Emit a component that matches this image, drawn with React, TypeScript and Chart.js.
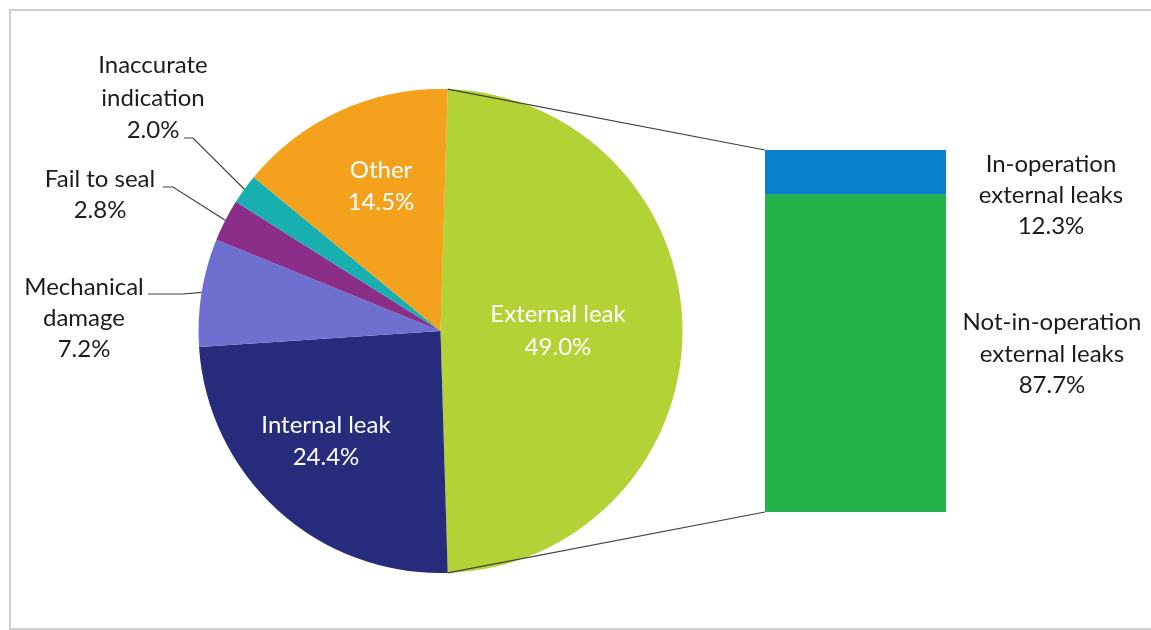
import React, { useEffect, useRef } from "react";
import { Chart, registerables } from "chart.js";

Chart.register(...registerables);

// ---------- data ----------
const pieCategories = ["External leak", "Internal leak", "Mechanical damage", "Fail to seal", "Inaccurate indication", "Other"];
const pieValues = [49.0, 24.4, 7.2, 2.8, 2.0, 14.5];
const pieLabelLines = [["External leak"], ["Internal leak"], ["Mechanical", "damage"], ["Fail to seal"], ["Inaccurate", "indication"], ["Other"]];
const pieColors = ["#b2d235", "#272b7c", "#6e70d0", "#8b2e8a", "#17afb0", "#f4a11d"];

const barCategories = ["Not-in-operation external leaks", "In-operation external leaks"];
const barValues = [87.7, 12.3];
const barLabelLines = [["Not-in-operation", "external leaks"], ["In-operation", "external leaks"]];
const barColors = ["#25b24b", "#0a80cc"];

const W = 1151;
const H = 630;
const FONT = "Lato, 'Open Sans', sans-serif";
const FONT_SIZE = 24;
const TEXT_DARK = "#1e1b1c";

// label placement (layout only)
const pieLabelPos = [
  { x: 558, base: [322, 355], color: "#ffffff" },
  { x: 326, base: [433, 465], color: "#ffffff" },
  { x: 84, base: [295, 326, 357], color: TEXT_DARK, leader: [[148, 294], [183, 294]] },
  { x: 100, base: [187, 218], color: TEXT_DARK, leader: [[163, 187], [173, 187]] },
  { x: 153, base: [73, 106, 138], color: TEXT_DARK, leader: [[184, 138], [193, 138]] },
  { x: 381, base: [178, 210], color: "#ffffff" },
];
const barLabelPos = [
  { x: 1052, base: [330, 362, 393] },
  { x: 1051, base: [172, 203, 234] },
];

const fmt = (v: number) => v.toFixed(1) + "%";

export default function App() {
  const pieRef = useRef<HTMLCanvasElement | null>(null);
  const barRef = useRef<HTMLCanvasElement | null>(null);

  useEffect(() => {
    const total = pieValues.reduce((a, b) => a + b, 0);
    const rotation = 90 - (pieValues[0] / total) * 180;

    const pieLabelPlugin = {
      id: "pieLabels",
      afterDraw(chart: any) {
        const ctx = chart.ctx;
        const meta = chart.getDatasetMeta(0);
        ctx.save();
        ctx.font = `${FONT_SIZE}px ${FONT}`;
        ctx.textAlign = "center";
        ctx.textBaseline = "alphabetic";
        meta.data.forEach((arc: any, i: number) => {
          const pos = pieLabelPos[i];
          const lines = [...pieLabelLines[i], fmt(pieValues[i])];
          ctx.fillStyle = pos.color;
          lines.forEach((t, k) => ctx.fillText(t, pos.x, pos.base[k]));
          if (pos.leader) {
            const p = arc.getProps(["x", "y", "startAngle", "endAngle", "outerRadius"], true);
            const mid = (p.startAngle + p.endAngle) / 2;
            const ex = p.x + Math.cos(mid) * p.outerRadius;
            const ey = p.y + Math.sin(mid) * p.outerRadius;
            ctx.strokeStyle = "#404040";
            ctx.lineWidth = 1.2;
            ctx.beginPath();
            ctx.moveTo(pos.leader[0][0], pos.leader[0][1]);
            ctx.lineTo(pos.leader[1][0], pos.leader[1][1]);
            ctx.lineTo(ex, ey);
            ctx.stroke();
          }
        });
        ctx.restore();
      },
    };

    const pie = new Chart(pieRef.current as HTMLCanvasElement, {
      type: "pie",
      data: {
        labels: pieCategories,
        datasets: [
          {
            data: pieValues,
            backgroundColor: pieColors,
            borderWidth: 0,
          },
        ],
      },
      options: {
        responsive: false,
        animation: false,
        devicePixelRatio: 1,
        rotation,
        radius: 242,
        layout: { padding: { left: 198.5, right: 468.5, top: 89, bottom: 57 } },
        plugins: { legend: { display: false }, tooltip: { enabled: false } },
      } as any,
      plugins: [pieLabelPlugin],
    });

    const barPlugin = {
      id: "barDecor",
      afterDraw(chart: any) {
        const ctx = chart.ctx;
        ctx.save();
        // connector lines from pie slice edges to bar corners
        const arc = pie.getDatasetMeta(0).data[0] as any;
        const p = arc.getProps(["x", "y", "startAngle", "endAngle", "outerRadius"], true);
        const topBar = chart.getDatasetMeta(1).data[0] as any;
        const botBar = chart.getDatasetMeta(0).data[0] as any;
        const left = topBar.x - topBar.width / 2;
        const topY = topBar.y;
        const botY = botBar.base;
        ctx.strokeStyle = "#404040";
        ctx.lineWidth = 1.2;
        ctx.beginPath();
        ctx.moveTo(p.x + Math.cos(p.startAngle) * p.outerRadius, p.y + Math.sin(p.startAngle) * p.outerRadius);
        ctx.lineTo(left, topY);
        ctx.moveTo(p.x + Math.cos(p.endAngle) * p.outerRadius, p.y + Math.sin(p.endAngle) * p.outerRadius);
        ctx.lineTo(left, botY);
        ctx.stroke();

        ctx.font = `${FONT_SIZE}px ${FONT}`;
        ctx.textAlign = "center";
        ctx.textBaseline = "alphabetic";
        ctx.fillStyle = TEXT_DARK;
        barValues.forEach((v, i) => {
          const lines = [...barLabelLines[i], fmt(v)];
          const pos = barLabelPos[i];
          lines.forEach((t, k) => ctx.fillText(t, pos.x, pos.base[k]));
        });
        ctx.restore();
      },
    };

    const bar = new Chart(barRef.current as HTMLCanvasElement, {
      type: "bar",
      data: {
        labels: ["External leak"],
        datasets: barValues.map((v, i) => ({
          label: barCategories[i],
          data: [v],
          backgroundColor: barColors[i],
          borderWidth: 0,
          barPercentage: 1,
          categoryPercentage: 1,
        })),
      },
      options: {
        responsive: false,
        animation: false,
        devicePixelRatio: 1,
        layout: { padding: { left: 765, right: 205, top: 150, bottom: 118 } },
        scales: {
          x: { stacked: true, display: false },
          y: { stacked: true, display: false, min: 0, max: 100 },
        },
        plugins: { legend: { display: false }, tooltip: { enabled: false } },
      } as any,
      plugins: [barPlugin],
    });

    return () => {
      bar.destroy();
      pie.destroy();
    };
  }, []);

  return (
    <div style={{ position: "fixed", left: 0, top: 0, width: W, height: H, overflow: "hidden", background: "#ffffff" }}>
      <div
        style={{
          position: "absolute",
          left: 9,
          top: 9,
          width: 1200,
          height: 617,
          border: "2px solid #cfcfcf",
        }}
      />
      <canvas ref={pieRef} width={W} height={H} style={{ position: "absolute", left: 0, top: 0, display: "block" }} />
      <canvas ref={barRef} width={W} height={H} style={{ position: "absolute", left: 0, top: 0, display: "block" }} />
    </div>
  );
}
